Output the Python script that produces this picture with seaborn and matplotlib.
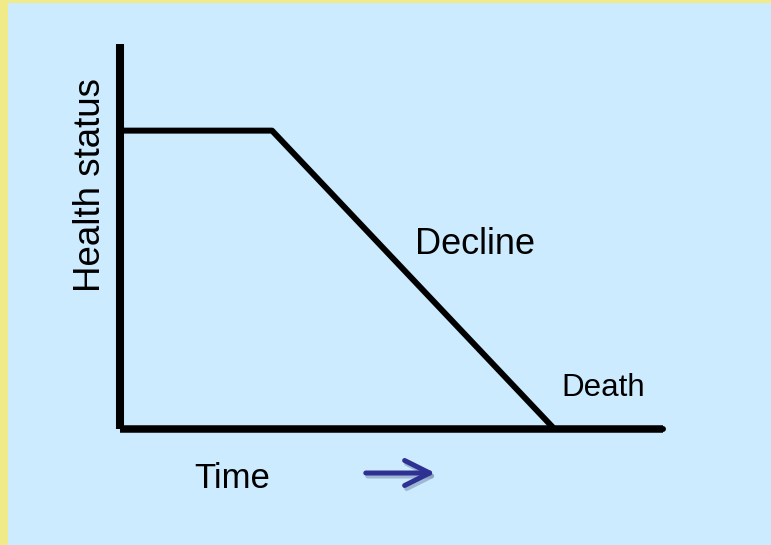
import matplotlib
matplotlib.use("Agg")
import matplotlib.pyplot as plt
from matplotlib.patches import Rectangle, FancyArrowPatch
import seaborn as sns
import pandas as pd

# ---- data ----
time = [0.0, 2.8, 8.0, 10.0]
health = [7.75, 7.75, 0.0, 0.0]
axis_labels = ["Time", "Health status"]
annotations = ["Decline", "Death"]

W, H = 771, 545
DPI = 100

sns.set_style("white")
plt.rcParams["font.family"] = ["Liberation Sans", "DejaVu Sans"]
plt.rcParams["text.color"] = "black"

fig = plt.figure(figsize=(W / DPI, H / DPI), dpi=DPI)
fig.patch.set_facecolor("#F1EA88")
fig.add_artist(Rectangle((8 / W, 0), 1, 1 - 3 / H, transform=fig.transFigure,
                         facecolor="#CCEBFF", edgecolor="none", zorder=0))


def fx(x):
    return x / W


def fy(y):
    return 1 - y / H


ax = fig.add_axes([fx(120), fy(429), (663 - 120) / W, (429 - 44) / H])
ax.set_facecolor("none")

df = pd.DataFrame({"time": time, "health": health})
sns.lineplot(data=df, x="time", y="health", ax=ax, color="black",
             linewidth=4.3, estimator=None, sort=False, clip_on=False)

ax.set_xlim(0, 10)
ax.set_ylim(0, 10)
ax.set_xticks([])
ax.set_yticks([])
ax.set_xlabel("")
ax.set_ylabel("")
for side in ["top", "right"]:
    ax.spines[side].set_visible(False)
ax.spines["left"].set_linewidth(5.8)
ax.spines["bottom"].set_linewidth(5.4)
for side in ["left", "bottom"]:
    ax.spines[side].set_color("black")
    ax.spines[side].set_capstyle("butt")
    ax.spines[side].set_zorder(3)

# texts
fig.text(fx(231.7), fy(488), axis_labels[0], fontsize=25, ha="center",
         va="baseline", color="black")
fig.text(fx(100.5), fy(184.5), axis_labels[1], fontsize=26.5, rotation=90,
         rotation_mode="anchor", ha="center", va="baseline", color="black")
fig.text(fx(475.5), fy(254), annotations[0], fontsize=26, ha="center",
         va="baseline", color="black")
fig.text(fx(603.4), fy(396), annotations[1], fontsize=22.5, ha="center",
         va="baseline", color="black")

# arrow with soft shadow
for dx, dy, col, al, z in [(2, 3, "#7F95B8", 0.6, 4), (0, 0, "#2E3192", 1.0, 5)]:
    fig.add_artist(FancyArrowPatch(
        (fx(363 + dx), fy(473 + dy)), (fx(438 + dx), fy(473 + dy)),
        transform=fig.transFigure,
        arrowstyle="->,head_length=0.4,head_width=0.2", mutation_scale=45,
        linewidth=3.6, color=col, alpha=al, zorder=z))

fig.savefig("out.png", dpi=DPI, facecolor=fig.get_facecolor())
